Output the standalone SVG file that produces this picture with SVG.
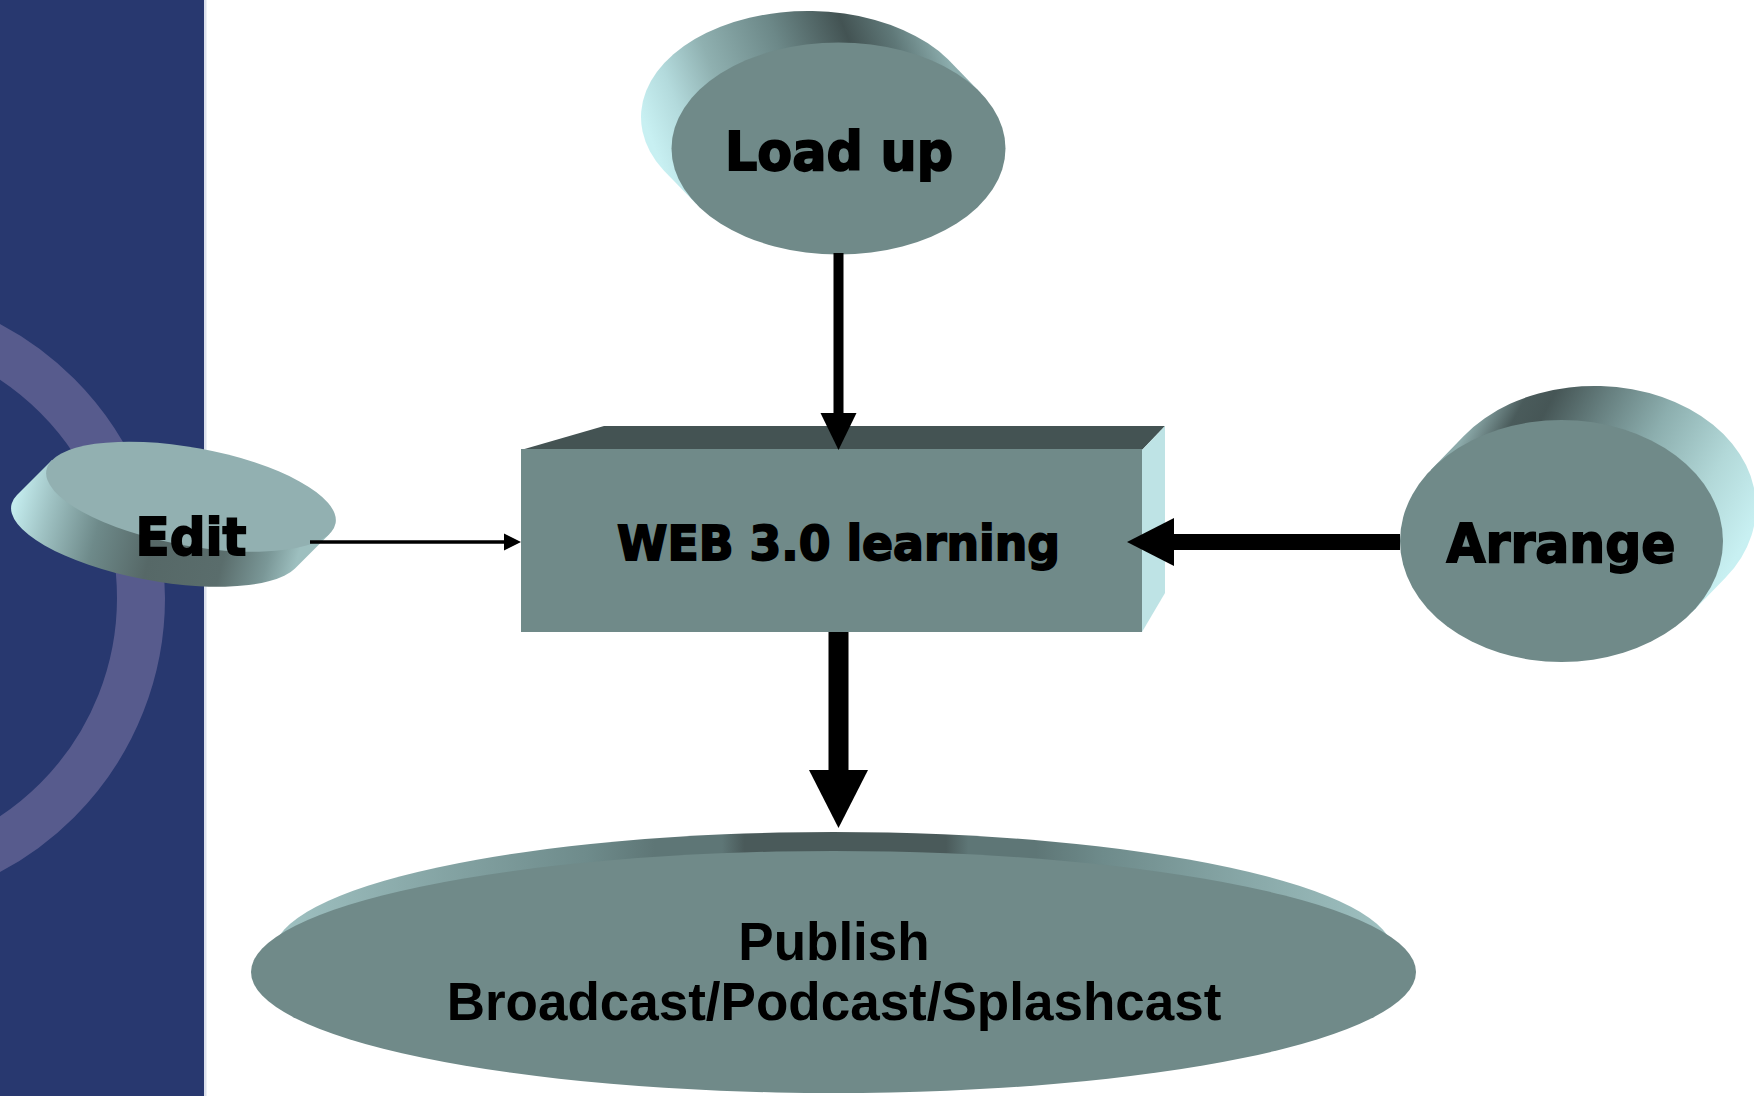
<svg xmlns="http://www.w3.org/2000/svg" width="1754" height="1096" viewBox="0 0 1754 1096">
  <style>
    .heavy { font-family: "DejaVu Sans", "Liberation Sans", sans-serif; font-weight: bold; fill: #000; stroke: #000; stroke-width: 1.8; text-anchor: middle; }
    .pub { font-family: "Liberation Sans", Arial, sans-serif; font-weight: bold; fill: #000; font-size: 53px; text-anchor: middle; }
    .face { fill: #708A89; }
    .conn line { stroke: #000; }
    .conn polygon { fill: #000; }
  </style>
  <defs>
    <linearGradient id="gLoad" gradientUnits="userSpaceOnUse" x1="663" y1="170" x2="948" y2="59">
      <stop offset="0" stop-color="#C8F0F2"/>
      <stop offset="0.12" stop-color="#B3DADC"/>
      <stop offset="0.27" stop-color="#8FB0B0"/>
      <stop offset="0.5" stop-color="#6C8888"/>
      <stop offset="0.72" stop-color="#435353"/>
      <stop offset="0.86" stop-color="#5F7878"/>
      <stop offset="1" stop-color="#8CADAD"/>
    </linearGradient>
    <linearGradient id="gArr" gradientUnits="userSpaceOnUse" x1="1464" y1="436" x2="1725" y2="578">
      <stop offset="0" stop-color="#8CAAAA"/>
      <stop offset="0.12" stop-color="#4A5B5B"/>
      <stop offset="0.2" stop-color="#465656"/>
      <stop offset="0.36" stop-color="#667F7F"/>
      <stop offset="0.56" stop-color="#8CAEAE"/>
      <stop offset="0.8" stop-color="#B2D8D8"/>
      <stop offset="1" stop-color="#C8F0F2"/>
    </linearGradient>
    <linearGradient id="gEdit" gradientUnits="userSpaceOnUse" x1="17" y1="495" x2="295" y2="568">
      <stop offset="0" stop-color="#C3EBED"/>
      <stop offset="0.12" stop-color="#9FC2C3"/>
      <stop offset="0.3" stop-color="#6E8A8A"/>
      <stop offset="0.5" stop-color="#566867"/>
      <stop offset="0.75" stop-color="#5A6D6C"/>
      <stop offset="0.9" stop-color="#7A9797"/>
      <stop offset="1" stop-color="#9DBFBF"/>
    </linearGradient>
    <linearGradient id="gPub" gradientUnits="userSpaceOnUse" x1="274" y1="0" x2="1394" y2="0">
      <stop offset="0" stop-color="#A0C2C2"/>
      <stop offset="0.12" stop-color="#8AAAAA"/>
      <stop offset="0.28" stop-color="#6E8B8B"/>
      <stop offset="0.34" stop-color="#5E7676"/>
      <stop offset="0.4" stop-color="#5E7676"/>
      <stop offset="0.42" stop-color="#4A5A5A"/>
      <stop offset="0.6" stop-color="#4A5A5A"/>
      <stop offset="0.62" stop-color="#5E7676"/>
      <stop offset="0.68" stop-color="#5E7676"/>
      <stop offset="0.74" stop-color="#6E8B8B"/>
      <stop offset="0.88" stop-color="#8AAAAA"/>
      <stop offset="1" stop-color="#A0C2C2"/>
    </linearGradient>
    <clipPath id="panelClip"><rect x="0" y="0" width="204" height="1096"/></clipPath>
  </defs>

  <rect x="0" y="0" width="1754" height="1096" fill="#FFFFFF"/>

  <g id="background">
    <rect x="0" y="0" width="204" height="1096" fill="#28386F"/>
    <circle cx="-145" cy="598" r="286" fill="none" stroke="#575B8D" stroke-width="48" clip-path="url(#panelClip)"/>
    <rect x="204" y="0" width="2.5" height="1096" fill="#DCE1EC"/>
  </g>

  <g id="node-loadup">
    <path d="M696.3,204 L663.3,170 A167,106 0 0 1 947.7,59 L980.7,93 Z" fill="url(#gLoad)"/>
    <ellipse class="face" cx="838.5" cy="148.5" rx="167" ry="106"/>
    <text class="heavy" x="839" y="170" font-size="53" textLength="228" lengthAdjust="spacingAndGlyphs">Load up</text>
  </g>

  <g id="node-edit">
    <path d="M52,460 L17,495 A147,49 10.4 0 0 295,568.4 L330,533.4 Z" fill="url(#gEdit)"/>
    <ellipse cx="0" cy="0" rx="147" ry="49" fill="#92B0B1" transform="translate(191 496.7) rotate(10.4)"/>
    <text class="heavy" x="191" y="555" font-size="52" textLength="111" lengthAdjust="spacingAndGlyphs">Edit</text>
  </g>

  <g id="node-web">
    <polygon points="521,450 604,426 1165,426 1142,450" fill="#445353"/>
    <polygon points="1142,450 1165,426 1165,593 1142,632" fill="#BEE3E5"/>
    <rect class="face" x="521" y="449" width="621" height="183"/>
    <text class="heavy" x="838.5" y="560" font-size="48" textLength="443" lengthAdjust="spacingAndGlyphs">WEB 3.0 learning</text>
  </g>

  <g id="node-arrange">
    <path d="M1430.8,469.9 L1463.8,435.9 A161.5,121 0 0 1 1725.2,578.1 L1692.2,612.1 Z" fill="url(#gArr)"/>
    <ellipse class="face" cx="1561.5" cy="541" rx="161.5" ry="121"/>
    <text class="heavy" x="1561" y="562" font-size="53" textLength="229" lengthAdjust="spacingAndGlyphs">Arrange</text>
  </g>

  <g id="node-publish">
    <ellipse cx="833.5" cy="953" rx="560" ry="121" fill="url(#gPub)"/>
    <ellipse class="face" cx="833.5" cy="972" rx="582.5" ry="121"/>
    <text class="pub" x="834" y="960">Publish</text>
    <text class="pub" x="834" y="1020">Broadcast/Podcast/Splashcast</text>
  </g>

  <g id="connectors" class="conn">
    <line x1="838.5" y1="253" x2="838.5" y2="415" stroke-width="10"/>
    <polygon points="820.5,413 856.5,413 838.5,450"/>
    <line x1="310" y1="542" x2="505" y2="542" stroke-width="3.5"/>
    <polygon points="504,533.5 521,542 504,550.5"/>
    <line x1="1400" y1="542" x2="1172" y2="542" stroke-width="16"/>
    <polygon points="1174,518 1174,566 1127,542"/>
    <line x1="838.5" y1="632" x2="838.5" y2="772" stroke-width="20"/>
    <polygon points="809,770 868,770 838.5,828"/>
  </g>
</svg>
